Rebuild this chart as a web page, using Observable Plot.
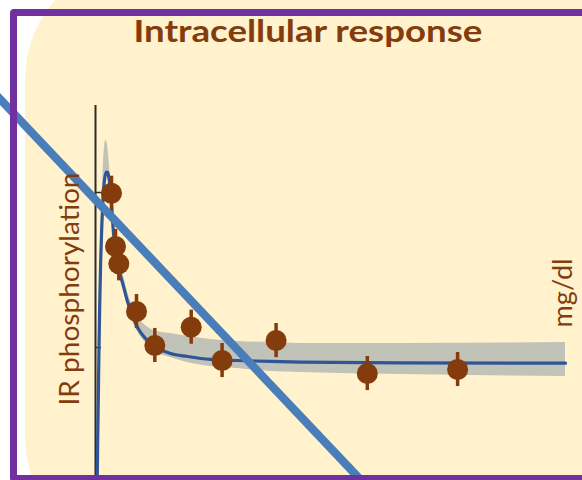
<!DOCTYPE html>
<html><head><meta charset="utf-8">
<script src="https://cdn.jsdelivr.net/npm/d3@7"></script>
<script src="https://cdn.jsdelivr.net/npm/@observablehq/plot@0.6"></script>
<style>
html,body{margin:0;padding:0;background:#fff;overflow:hidden}
#wrap{position:relative;width:582px;height:480px;overflow:hidden;background:#fff}
#cream{position:absolute;left:25px;top:-42px;width:700px;height:600px;border-radius:122px;background:#FFF2CC;z-index:0}
#chart{position:absolute;left:0;top:0;z-index:1}
#border{position:absolute;left:10px;top:9px;width:700px;height:473px;box-sizing:border-box;border:7px solid #7030A0;border-radius:4px;z-index:2;pointer-events:none}
</style></head>
<body><div id="wrap"><div id="cream"></div><div id="chart"></div><div id="border"></div></div>
<script>
// ---- data (time units, response units) ----
const titleText = "Intracellular response";
const yLabel = "IR phosphorylation";
const rightLabel = "mg/dl";
const yTicks = [1, 2];

// measured points
const pointT = [5.33, 6.67, 7.77, 13.67, 19.77, 31.9, 42.2, 60.2, 90.6, 120.7];
const pointV = [1.995, 1.652, 1.540, 1.232, 1.013, 1.131, 0.916, 1.045, 0.832, 0.858];
const pointErr = [0.11, 0.11, 0.11, 0.11, 0.11, 0.11, 0.11, 0.11, 0.11, 0.11];

// fitted model curve and its confidence band
const curveT = [0.53,0.73,0.93,1.13,1.4,1.73,2.07,2.4,2.73,3.07,3.4,3.73,4.07,4.4,4.73,5.07,5.4,5.8,6.33,7,7.83,8.9,10.57,12,14,16.67,19.33,25,30.67,38.33,47.33,58.33,68.33,101.67,156.67];
const curveV = [0.077,0.4,0.658,0.948,1.271,1.561,1.768,1.916,2.026,2.09,2.123,2.132,2.129,2.103,2.058,1.994,1.91,1.787,1.671,1.574,1.497,1.426,1.303,1.219,1.129,1.058,1.013,0.961,0.942,0.923,0.916,0.91,0.906,0.901,0.899];
const bandHigh = [0.116,0.497,0.787,1.077,1.4,1.703,1.916,2.077,2.219,2.303,2.335,2.329,2.297,2.232,2.155,2.077,2.0,1.897,1.781,1.677,1.587,1.497,1.368,1.284,1.2,1.142,1.11,1.09,1.071,1.052,1.039,1.032,1.026,1.026,1.032];
const bandLow = [0.052,0.348,0.594,0.865,1.187,1.484,1.703,1.865,1.987,2.058,2.097,2.11,2.103,2.077,2.026,1.955,1.871,1.748,1.632,1.542,1.465,1.4,1.284,1.194,1.103,1.032,0.981,0.935,0.903,0.877,0.865,0.845,0.839,0.826,0.813];

// straight trend line crossing the panel
const diagT = [-35, 95];
const diagV = [2.668, 0.011];

// y axis extent
const axisT = [0];
const axisV1 = 0.05, axisV2 = 2.561;
const tickLen = 2;

// ---- tables ----
const points = pointT.map((t, i) => ({t, v: pointV[i], lo: pointV[i] - pointErr[i], hi: pointV[i] + pointErr[i]}));
const curve = curveT.map((t, i) => ({t, v: curveV[i], lo: bandLow[i], hi: bandHigh[i]}));
const diag = diagT.map((t, i) => ({t, v: diagV[i]}));

const brown = "#843C0C";
const font = "Lato, 'Open Sans', sans-serif";

const chart = Plot.plot({
  width: 582, height: 480,
  marginLeft: 95, marginRight: 7, marginTop: 103, marginBottom: 4,
  style: {background: "transparent", overflow: "hidden", fontFamily: font},
  x: {domain: [0, 160], range: [95, 575], axis: null},
  y: {domain: [1, 2], range: [347, 192], axis: null},
  marks: [
    Plot.ruleX(axisT, {x: d => d, y1: axisV1, y2: axisV2, stroke: "#2a2a2a", strokeWidth: 2}),
    Plot.ruleY(yTicks, {y: d => d, x1: 0, x2: tickLen, stroke: "#2a2a2a", strokeWidth: 1.5}),
    Plot.areaY(curve, {x: "t", y1: "lo", y2: "hi", fill: "#C1C2B8", curve: "monotone-x"}),
    Plot.line(curve, {x: "t", y: "v", stroke: "#2F5597", strokeWidth: 3.2, curve: "monotone-x"}),
    Plot.ruleX(points, {x: "t", y1: "lo", y2: "hi", stroke: brown, strokeWidth: 3.5}),
    Plot.dot(points, {x: "t", y: "v", r: 10.5, fill: brown, stroke: "none"}),
    Plot.line(diag, {x: "t", y: "v", stroke: "#4A7EBB", strokeWidth: 8.3, strokeLinecap: "butt"}),
    Plot.text([titleText], {text: d => d, frameAnchor: "top", dx: -27.6, dy: -61.3, lineAnchor: "bottom",
      textAnchor: "middle", fontSize: 31, fontWeight: "bold", fill: brown, fontFamily: font}),
    Plot.text([yLabel], {text: d => d, frameAnchor: "left", rotate: -90, dx: -16.7, dy: -1, lineAnchor: "bottom",
      textAnchor: "middle", fontSize: 27, fill: brown, fontFamily: font}),
    Plot.text([rightLabel], {text: d => d, frameAnchor: "right", rotate: -90, dx: -3.5, dy: 3, lineAnchor: "bottom",
      textAnchor: "middle", fontSize: 27, fill: brown, fontFamily: font})
  ]
});
document.getElementById("chart").appendChild(chart);

// match the text lengths of the original slide font
const lengths = {[titleText]: 349, [yLabel]: 233, [rightLabel]: 69};
chart.querySelectorAll("text").forEach(el => {
  const L = lengths[el.textContent];
  if (L) { el.setAttribute("textLength", L); el.setAttribute("lengthAdjust", "spacingAndGlyphs"); }
});
</script></body></html>
